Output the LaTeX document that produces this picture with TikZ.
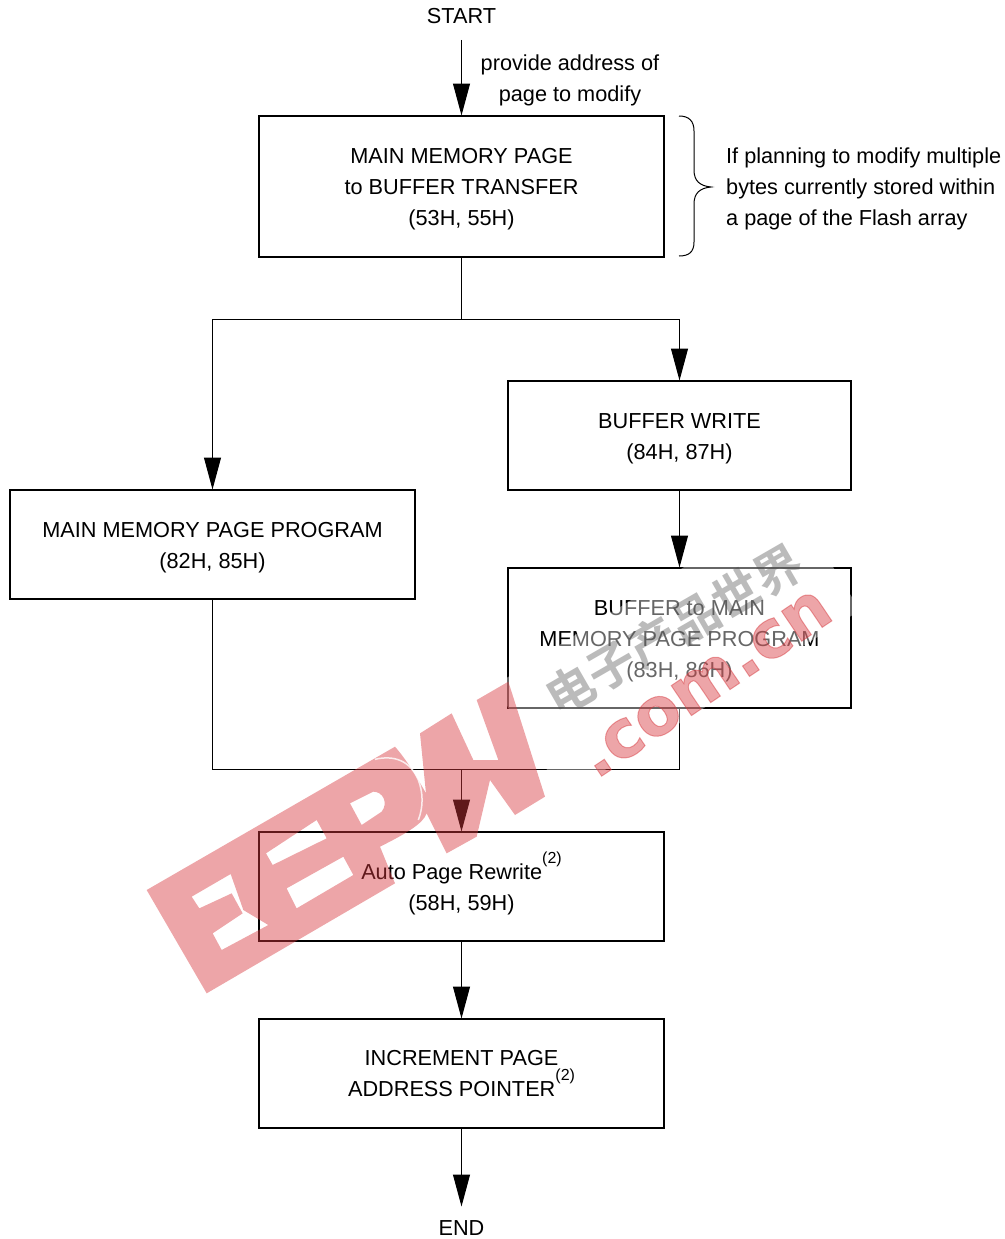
\documentclass[tikz,border=0pt]{standalone}
\usepackage{fontspec}
\setmainfont{Liberation Sans}
\newfontfamily\cjkwm{Noto Sans CJK SC}[BoldFont={* Bold}]
\newfontfamily\wmlatin{DejaVu Sans Bold}[FakeBold=1.5]
\usetikzlibrary{arrows.meta}
\definecolor{wmred}{rgb}{0.844,0.22,0.244}
\definecolor{wmgrey}{rgb}{0.3,0.3,0.3}
\tikzset{
  box/.style={draw=black,line width=2pt,align=center,inner sep=0pt,font=\fontsize{21.7}{31}\selectfont},
  plain/.style={align=center,inner sep=0pt,font=\fontsize{21.7}{31}\selectfont},
  link/.style={draw=black,line width=1pt},
  arrowlink/.style={link,-{Triangle[length=32pt,width=17pt]},shorten >=-0.5pt},
  wm/.style={inner sep=0pt,opacity=.45,text=wmred},
  wmg/.style={inner sep=0pt,opacity=.38,text=wmgrey}
}
\newcommand{\supmark}{\smash{\raisebox{16pt}{\fontsize{16}{16}\selectfont (2)}}}
\newcommand{\dn}{\rule{0pt}{21pt}}
\begin{document}
\begin{tikzpicture}[x=1pt,y=-1pt]
\useasboundingbox (0,0) rectangle (1004,1239);
\node[plain] (start) at (461.5,16) {START};
\node[plain] (end) at (461.5,1228) {END};
\node[plain] (addr) at (570,80) {provide address of\\page to modify};
\node[box,minimum width=405pt,minimum height=141pt] (mmbt) at (461.5,186.5) {\dn MAIN MEMORY PAGE\\to BUFFER TRANSFER\\(53H, 55H)};
\node[plain,anchor=west,align=left] (note) at (726,189) {If planning to modify multiple\\bytes currently stored within\\a page of the Flash array};
\node[box,minimum width=343pt,minimum height=109pt] (bw) at (679.5,435.5) {\dn BUFFER WRITE\\(84H, 87H)};
\node[box,minimum width=405pt,minimum height=109pt] (mmpp) at (212.5,544.5) {\dn MAIN MEMORY PAGE PROGRAM\\(82H, 85H)};
\node[box,minimum width=343pt,minimum height=140pt] (bmm) at (679.5,638) {\dn BUFFER to MAIN\\MEMORY PAGE PROGRAM\\(83H, 86H)};
\node[box,minimum width=405pt,minimum height=109pt] (apr) at (461.5,886.5) {\dn Auto Page Rewrite\supmark\\(58H, 59H)};
\node[box,minimum width=405pt,minimum height=109pt] (inc) at (461.5,1073.5) {INCREMENT PAGE\\ADDRESS POINTER\supmark};
% connectors
\coordinate (split) at (461.5,319);
\coordinate (merge) at (461.5,769.5);
\coordinate (startout) at (461.5,40);
\coordinate (endin) at (461.5,1206);
\draw[arrowlink] (startout) -- (mmbt.north);
\draw[link] (mmbt.south) -- (split);
\draw[arrowlink] (split) -| (mmpp.north);
\draw[arrowlink] (split) -| (bw.north);
\draw[arrowlink] (bw.south) -- (bmm.north);
\draw[link] (mmpp.south) |- (merge);
\draw[link] (bmm.south) |- (merge);
\draw[arrowlink] (merge) -- (apr.north);
\draw[arrowlink] (apr.south) -- (inc.north);
\draw[arrowlink] (inc.south) -- (endin);
% brace
\draw[line width=1pt] (679,116) .. controls (689,116) and (694,121) .. (694,131) -- (694,170) .. controls (694,181) and (700,186) .. (711,187) .. controls (700,188) and (694,193) .. (694,204) -- (694,242) .. controls (694,252) and (689,256) .. (679,256);
% watermark halo
\fill[white,opacity=.4,rotate around={32:(690,640)}] (500,575) rectangle (850,705);
% watermark, EEPW block
\begin{scope}[shift={(140,680)},x=0.33333pt,y=-0.33333pt]
\fill[wmred,opacity=.45,even odd rule]
  (20,630) -- (765,200) .. controls (800,240) and (830,290) .. (858,340)
  -- (840,160) -- (935,100) -- (1000,240) -- (1075,240) -- (1010,60) -- (1105,5)
  -- (1215,350) -- (1125,405) -- (1050,300) -- (1010,470) -- (920,520) -- (860,400)
  .. controls (850,430) and (800,460) .. (720,500) -- (765,610) -- (200,940) -- cycle
  (630,370) -- (700,335) .. controls (730,335) and (745,370) .. (725,395) -- (665,435) -- cycle
  (378,520) -- (530,420) -- (560,475) -- (398,555) -- cycle
  (440,625) -- (610,530) -- (640,585) -- (470,685) -- cycle
  (155,650) -- (272,582) -- (310,690) -- (385,735) -- (245,810) -- (218,760) -- (308,700) -- (275,640) -- (178,685) -- cycle;
\draw[white,line width=1.5pt,opacity=.8] (705,238) .. controls (760,225) and (810,240) .. (835,300) .. controls (850,340) and (850,380) .. (835,420);
\end{scope}
\node[wm,rotate=34,font=\fontsize{66}{66}\selectfont\wmlatin] (wmcom) at (706,684) {.com.cn};
\node[wmg,rotate=30,font=\fontsize{48}{48}\selectfont\cjkwm\bfseries] (wmcn) at (674,630) {电子产品世界};
\end{tikzpicture}
\end{document}
